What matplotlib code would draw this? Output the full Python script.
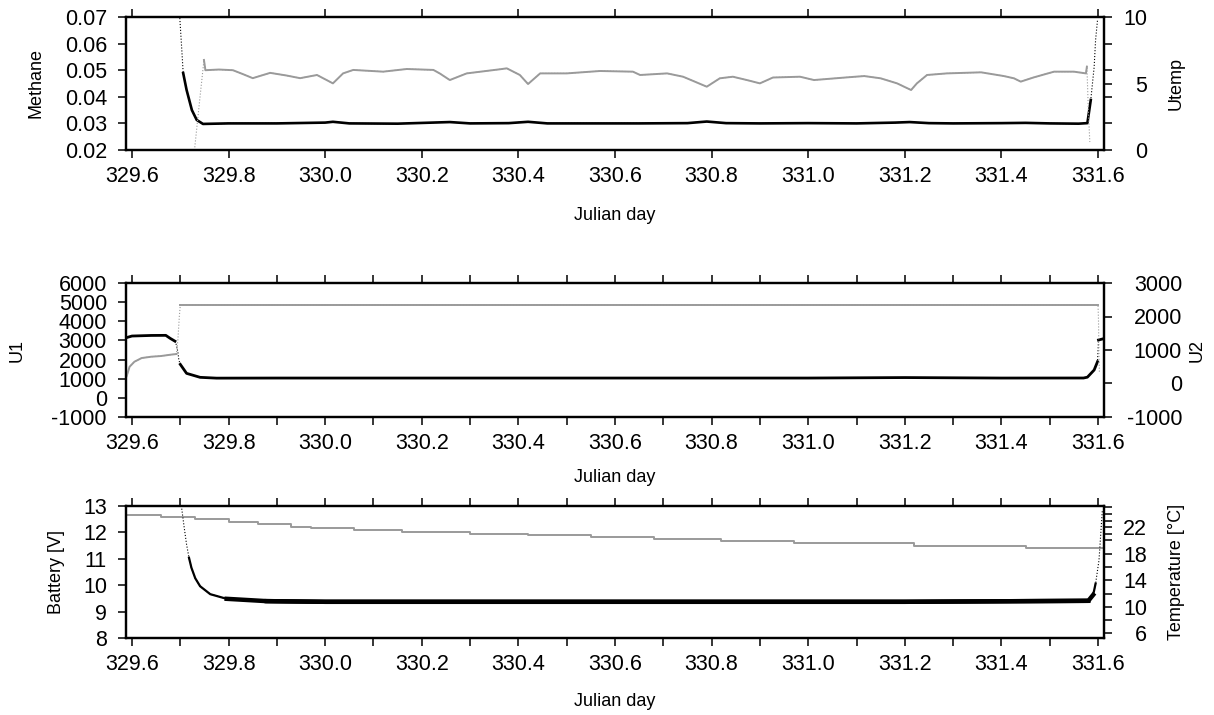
import matplotlib
matplotlib.use("Agg")
import matplotlib.pyplot as plt
import numpy as np
from matplotlib.ticker import MultipleLocator

plt.rcParams['font.family'] = ['Liberation Sans', 'DejaVu Sans']
plt.rcParams['axes.unicode_minus'] = False

# ---- data ----
# top panel: methane (left) and Utemp (right)
meth_t = [329.699, 329.703, 329.706, 329.713, 329.724, 329.734, 329.747, 329.80, 329.90, 330.00,
          330.016, 330.05, 330.15, 330.258, 330.30, 330.38, 330.42, 330.46, 330.55, 330.65, 330.75,
          330.79, 330.83, 330.90, 331.00, 331.10, 331.18, 331.21, 331.25, 331.30, 331.40, 331.45,
          331.50, 331.56, 331.578, 331.585, 331.592, 331.595, 331.599]
meth_v = [0.0696, 0.058, 0.0489, 0.0426, 0.0350, 0.0313, 0.0298, 0.0300, 0.0300, 0.0303,
          0.0306, 0.0300, 0.0299, 0.0305, 0.0300, 0.0301, 0.0306, 0.0300, 0.0300, 0.0300, 0.0301,
          0.0307, 0.0301, 0.0300, 0.0301, 0.0300, 0.0303, 0.0305, 0.0301, 0.0300, 0.0301, 0.0302,
          0.0300, 0.0299, 0.0301, 0.0388, 0.0512, 0.0614, 0.0689]

utemp_t = [329.730, 329.740, 329.749, 329.752, 329.78, 329.809, 329.83, 329.85, 329.886, 329.92,
           329.948, 329.983, 330.016, 330.037, 330.058, 330.12, 330.169, 330.224, 330.237, 330.258,
           330.293, 330.362, 330.376, 330.403, 330.42, 330.445, 330.50, 330.569, 330.637, 330.652,
           330.708, 330.741, 330.79, 330.817, 330.844, 330.873, 330.90, 330.927, 330.983, 331.012,
           331.08, 331.116, 331.15, 331.184, 331.213, 331.225, 331.246, 331.287, 331.358, 331.405,
           331.426, 331.44, 331.467, 331.509, 331.55, 331.575, 331.577, 331.580, 331.583]
utemp_v = [0.2, 3.7, 6.77, 6.0, 6.05, 6.0, 5.7, 5.4, 5.8, 5.6,
           5.4, 5.64, 5.01, 5.76, 6.02, 5.89, 6.09, 6.02, 5.76, 5.26,
           5.76, 6.07, 6.14, 5.64, 4.96, 5.76, 5.76, 5.94, 5.89, 5.64,
           5.76, 5.51, 4.76, 5.39, 5.51, 5.26, 5.01, 5.45, 5.51, 5.26,
           5.46, 5.56, 5.39, 5.01, 4.51, 5.01, 5.64, 5.76, 5.84, 5.56,
           5.39, 5.14, 5.46, 5.89, 5.89, 5.76, 6.27, 3.0, 0.6]

# middle panel: U1 (left) and U2 (right)
u1_t = [329.589, 329.60, 329.64, 329.67, 329.679, 329.689, 329.692, 329.695, 329.697, 329.700,
        329.713, 329.741, 329.775, 329.90, 330.20, 330.60, 331.00, 331.20, 331.40, 331.570,
        331.578, 331.592, 331.599, 331.601, 331.610]
u1_v = [3150, 3230, 3260, 3265, 3110, 2960, 2760, 2400, 1977, 1750,
        1280, 1072, 1030, 1035, 1035, 1035, 1035, 1060, 1035, 1037,
        1080, 1455, 1890, 3022, 3080]

u2_t = [329.589, 329.595, 329.605, 329.62, 329.64, 329.66, 329.68, 329.692, 329.695, 329.698,
        329.700, 330.0, 330.5, 331.0, 331.5, 331.600, 331.601, 331.602, 331.603]
u2_v = [220, 500, 650, 760, 800, 820, 860, 880, 1300, 2000,
        2343, 2343, 2343, 2343, 2343, 2343, 1900, 800, 300]

# bottom panel: battery (left) and temperature (right)
bat_t = [329.589, 329.66, 329.73, 329.80, 329.86, 329.93, 329.97, 330.06, 330.16, 330.30,
         330.42, 330.55, 330.68, 330.82, 330.97, 331.22, 331.45, 331.61]
bat_v = [12.66, 12.6, 12.5, 12.4, 12.3, 12.2, 12.15, 12.08, 12.0, 11.95,
         11.9, 11.82, 11.75, 11.68, 11.6, 11.5, 11.42, 11.42]

temp_t = [329.703, 329.708, 329.713, 329.718, 329.723, 329.731, 329.741, 329.762, 329.796, 329.879,
          330.0, 330.4, 330.8, 331.2, 331.58, 331.59, 331.595, 331.602, 331.609]
temp_v = [24.8, 22.0, 19.4, 17.4, 15.9, 14.3, 13.1, 11.9, 11.2, 10.85,
          10.75, 10.75, 10.75, 10.75, 10.9, 11.8, 13.5, 17.0, 24.6]

xticks = np.round(np.arange(329.6, 331.61, 0.2), 1)
GRAY = '#9a9a9a'
TICK = 15.5
LAB = 13

fig = plt.figure(figsize=(12.14, 7.15), dpi=100)
W, H = 1214.0, 715.0


def panel(top, bottom):
    return fig.add_axes([126 / W, 1 - bottom / H, 978 / W, (bottom - top) / H])


def style(ax, ax2, minor, rpad):
    ax.set_xlim(329.5876, 331.6124)
    ax.set_xticks(xticks)
    ax.set_xticklabels(['%.1f' % v for v in xticks])
    if minor:
        ax.xaxis.set_minor_locator(MultipleLocator(0.1))
    for a in (ax, ax2):
        for s in a.spines.values():
            s.set_linewidth(1.6)
    ax.tick_params(axis='x', which='both', direction='out', length=6, width=1.1,
                   top=True, labelsize=TICK, pad=5.5)
    ax.tick_params(axis='y', direction='out', length=6, width=1.1, labelsize=TICK, pad=7.7)
    ax2.tick_params(axis='y', direction='out', length=6, width=1.1, labelsize=TICK, pad=rpad)
    plt.setp(ax2.get_yticklabels(), ha='right')


# ---- top ----
ax = panel(17, 150)
ax2 = ax.twinx()
ax.plot(meth_t, meth_v, color='black', lw=0.8, ls=':')
ax.plot(meth_t[2:-3], meth_v[2:-3], color='black', lw=1.9)
ax2.plot(utemp_t, utemp_v, color=GRAY, lw=0.8, ls=':')
ax2.plot(utemp_t[2:-2], utemp_v[2:-2], color=GRAY, lw=1.4)
ax.set_ylim(0.02, 0.07)
ax.set_yticks([0.02, 0.03, 0.04, 0.05, 0.06, 0.07])
ax.set_yticklabels(['0.02', '0.03', '0.04', '0.05', '0.06', '0.07'])
ax2.set_ylim(0, 10)
ax2.set_yticks([0, 2, 4, 5, 6, 8, 10])
ax2.set_yticklabels(['0', '', '', '5', '', '', '10'])
style(ax, ax2, False, 25)
ax.set_ylabel('Methane', fontsize=LAB)
ax.yaxis.set_label_coords(-0.083, 0.5)
ax2.set_ylabel('Utemp', fontsize=LAB)
ax2.yaxis.set_label_coords(1.0654, 0.5)
ax.set_xlabel('Julian day', fontsize=LAB)
ax.xaxis.set_label_coords(0.5, -0.43)

# ---- middle ----
ax = panel(283, 417)
ax2 = ax.twinx()
ax.plot(u1_t, u1_v, color='black', lw=0.8, ls=':')
ax.plot(u1_t[:6], u1_v[:6], color='black', lw=2.0)
ax.plot(u1_t[9:-2], u1_v[9:-2], color='black', lw=2.0)
ax.plot(u1_t[-2:], u1_v[-2:], color='black', lw=2.0)
ax2.plot(u2_t, u2_v, color=GRAY, lw=0.8, ls=':')
ax2.plot(u2_t[:8], u2_v[:8], color=GRAY, lw=1.4)
ax2.plot(u2_t[10:-3], u2_v[10:-3], color=GRAY, lw=1.4)
ax.set_ylim(-1000, 6000)
ax.set_yticks(np.arange(-1000, 6001, 1000))
ax2.set_ylim(-1000, 3000)
ax2.set_yticks(np.arange(-1000, 3001, 1000))
style(ax, ax2, True, 50.2)
ax.set_ylabel('U1', fontsize=LAB)
ax.yaxis.set_label_coords(-0.103, 0.5)
ax2.set_ylabel('U2', fontsize=LAB)
ax2.yaxis.set_label_coords(1.087, 0.5)
ax.set_xlabel('Julian day', fontsize=LAB)
ax.xaxis.set_label_coords(0.5, -0.39)

# ---- bottom ----
ax = panel(506, 638)
ax2 = ax.twinx()
ax.plot(bat_t, bat_v, color=GRAY, lw=1.4, drawstyle='steps-post')
ax2.plot(temp_t, temp_v, color='black', lw=0.8, ls=':')
ax2.plot(temp_t[3:-2], temp_v[3:-2], color='black', lw=1.6)
ax2.plot(temp_t[8:-4], temp_v[8:-4], color='black', lw=3.2)
ax2.plot(temp_t[9:-3], temp_v[9:-3], color='black', lw=3.2)
ax.set_ylim(8, 13)
ax.set_yticks([8, 9, 10, 11, 12, 13])
ax2.set_ylim(5.29, 25.2)
rt = [6, 8, 10, 12, 14, 16, 18, 20, 21, 22, 23, 24, 25]
ax2.set_yticks(rt)
ax2.set_yticklabels([str(v) if v in (6, 10, 14, 18, 22) else '' for v in rt])
style(ax, ax2, True, 25)
ax.set_ylabel('Battery [V]', fontsize=LAB)
ax.yaxis.set_label_coords(-0.062, 0.5)
ax2.set_ylabel('Temperature [°C]', fontsize=LAB)
ax2.yaxis.set_label_coords(1.0654, 0.5)
ax.set_xlabel('Julian day', fontsize=LAB)
ax.xaxis.set_label_coords(0.5, -0.42)

fig.savefig('out.png', dpi=100)
